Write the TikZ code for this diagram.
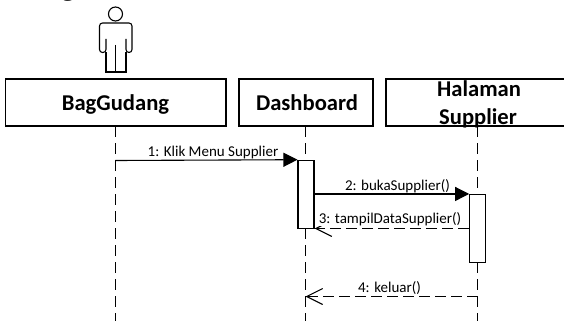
\documentclass[tikz,border=0pt]{standalone}
\usepackage{fontspec}
\setmainfont{Carlito}
\usetikzlibrary{arrows.meta}
\newfontfamily\serifpart{Liberation Serif}
\tikzset{
  x=1pt,y=-1pt,
  headbox/.style={draw,fill=white,inner sep=0pt,minimum height=47pt},
  headtext/.style={font=\bfseries\fontsize{22.6}{28}\selectfont,inner sep=0pt,anchor=base},
  actbox/.style={draw,fill=white,inner sep=0pt,minimum width=16pt},
  lifeline/.style={draw,line width=1.1pt,dash pattern=on 10.5pt off 6.5pt},
  msg/.style={font=\fontsize{15}{17}\selectfont,inner sep=0pt,anchor=base},
  call/.style={draw,-{Triangle[length=14pt,width=14pt]}},
  reply/.style={draw,line width=1.1pt,dash pattern=on 11pt off 5pt,-{Straight Barb[length=16pt,width=16pt]}},
}
\begin{document}
\begin{tikzpicture}[line width=1.1pt,draw=black]
\path[use as bounding box] (0,0) rectangle (564,321);
\clip (0,0) rectangle (564,321);
\node[font=\serifpart\fontsize{27}{27}\selectfont,inner sep=0pt,anchor=base] (frag) at (68,-4) {g};
% actor
\draw (115.5,14) circle (7);
\draw[rounded corners=3pt] (106,39) -- (106,52.5) -- (99.5,52.5) -- (99.5,23) -- (132,23) -- (132,52.5) -- (126,52.5) -- (126,39);
\draw (106,52.5) -- (106,72) -- (126,72) -- (126,52.5);
\draw (115.5,45) -- (115.5,72);
% heads
\node[headbox,minimum width=220.5pt] (bag) at (115.75,102.5) {};
\node[headbox,minimum width=134pt] (dash) at (306,102.5) {};
\node[headbox,minimum width=184pt] (hal) at (478,102.5) {};
\node[headtext] (bagt) at (115.5,110) {BagGudang};
\node[headtext] (dasht) at (307,110) {Dashboard};
\node[headtext] (halb) at (479,96) {Halaman};
\node[headtext] (sup) at (478,124) {Supplier};
% lifeline ends
\coordinate (bagend) at (115.5,321);
\coordinate (dashend) at (305.5,321);
\coordinate (halend) at (477.5,321);
\coordinate (bagtop) at (115.5,126);
\coordinate (dashtop) at (305.5,126);
\coordinate (haltop) at (477.5,126);
\draw[lifeline] (bagtop) -- (bagend);
\draw[lifeline] (dashtop) -- (dashend);
\draw[lifeline] (haltop) -- (halend);
% activations
\node[actbox,minimum height=68.5pt] (a1) at (306,194.5) {};
\node[actbox,minimum height=68pt] (a2) at (477.7,228.5) {};
% messages
\coordinate (m1s) at (115.5,160.5);
\coordinate (m4s) at (477.5,296.5);
\coordinate (m4e) at (305.5,296.5);
\draw[call] (m1s) -- (a1.north west);
\draw[call] (a1.east |- a2.north west) -- (a2.north west);
\draw[reply] (a2.west) -- (a2.west -| a1.south east);
\draw[reply] (m4s) -- (m4e);
\node[msg] (l1) at (213,156) {1: Klik Menu Supplier};
\node[msg] (l2) at (397.5,190.7) {2: bukaSupplier()};
\node[msg,fill=white,inner xsep=3.5pt] (l3) at (390,223.5) {3: tampilDataSupplier()};
\node[msg] (l4) at (389.5,292.6) {4: keluar()};
\end{tikzpicture}
\end{document}
